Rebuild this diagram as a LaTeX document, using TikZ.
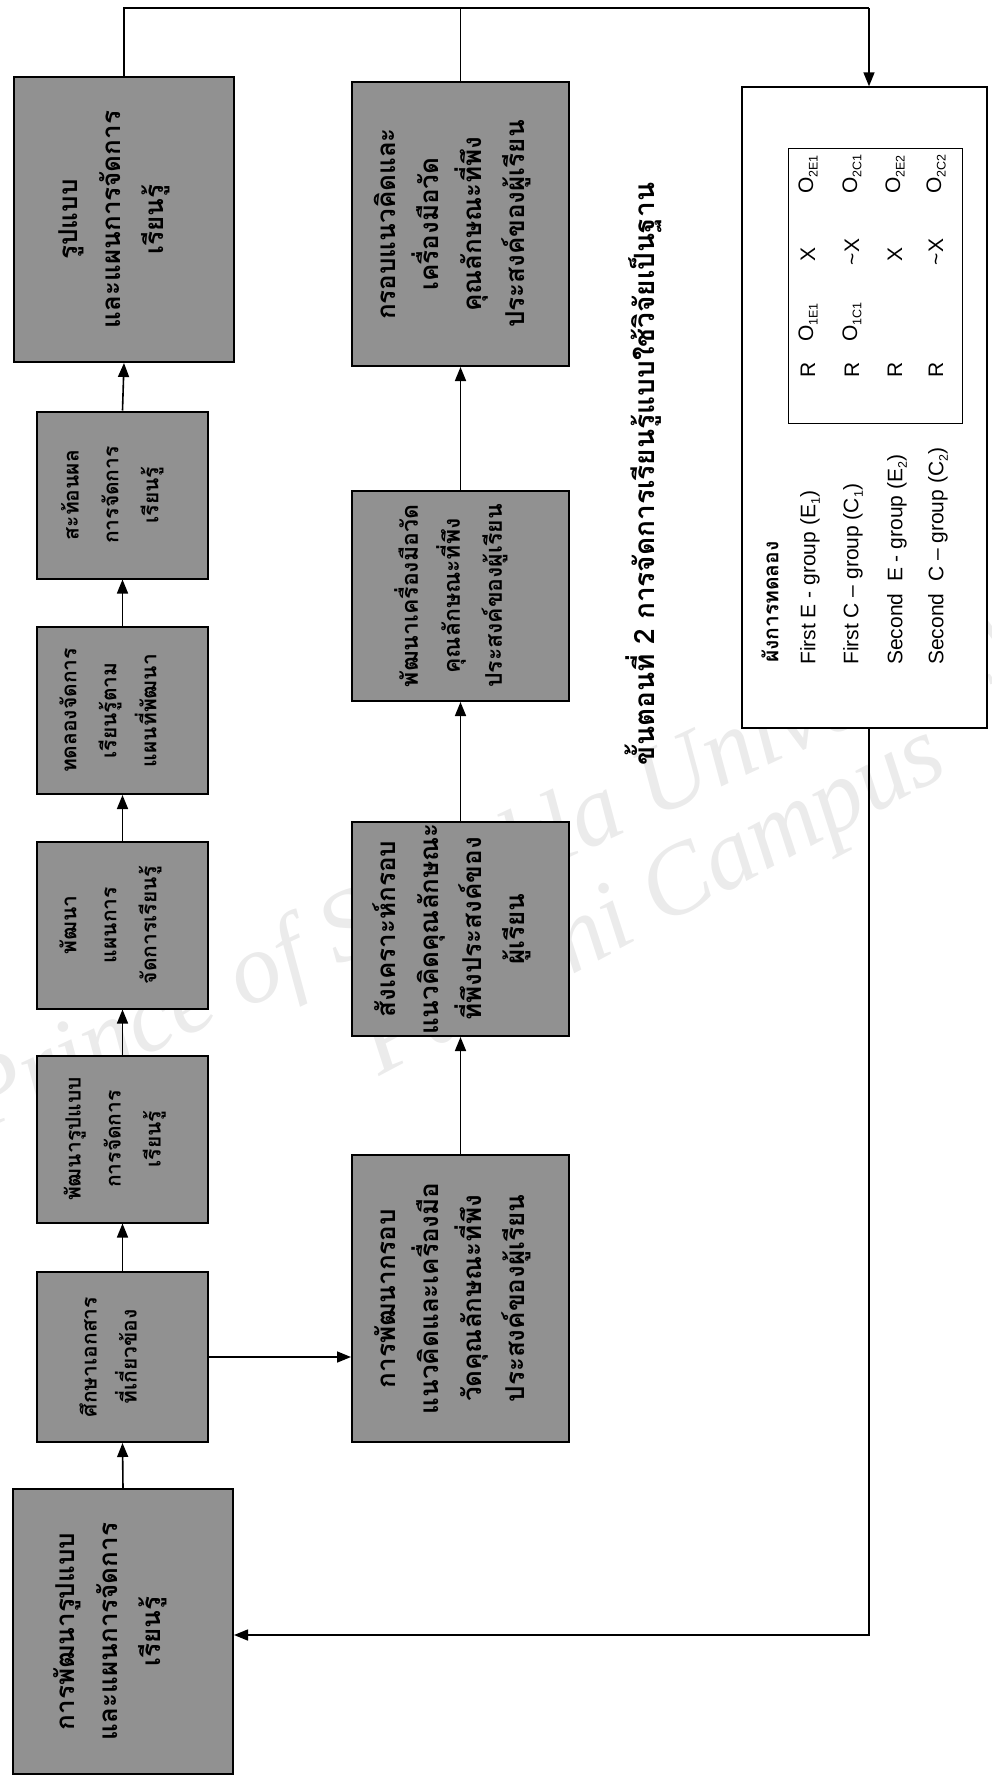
\documentclass[tikz,border=0pt]{standalone}
\usepackage{fontspec}
\usepackage{graphicx}
\setmainfont{Liberation Sans}
\newfontfamily\thai[Script=Thai]{Loma}
\newfontfamily\wmfont{Liberation Serif}
\usetikzlibrary{arrows.meta}
\definecolor{boxgray}{gray}{0.57}
\definecolor{wmark}{gray}{0.92}
% rotated multi-line text; optional arg shifts the text to the left
\newcommand{\vt}[2][0pt]{\rotatebox{90}{\begin{tabular}{@{}c@{}}#2\end{tabular}}\hspace*{#1}}
\newcommand{\lowsub}[1]{\raisebox{-0.4ex}{\fontsize{12.5}{12.5}\selectfont #1}}
\tikzset{
  gbox/.style={draw=black, line width=2pt, fill=boxgray, inner sep=0pt, text=black},
  smalltxt/.style={font=\thai\bfseries\fontsize{21}{40}\selectfont},
  midtxt/.style={font=\thai\bfseries\fontsize{23}{42}\selectfont},
  bigtxt/.style={font=\thai\bfseries\fontsize{26}{43}\selectfont},
  smallbox/.style={gbox, smalltxt, minimum width=171pt, minimum height=167pt},
  conn/.style={line width=1.6pt, draw=black},
  arr/.style={conn, -{Triangle[length=14pt,width=11pt]}},
  lab/.style={rotate=90, anchor=west, inner sep=0pt, font=\fontsize{21}{21}\selectfont},
  cell/.style={rotate=90, inner sep=0pt, font=\fontsize{21}{21}\selectfont},
  wm/.style={text=wmark, font=\wmfont\itshape\fontsize{100}{100}\selectfont},
}
\begin{document}
\begin{tikzpicture}[x=1pt,y=-1pt]
\useasboundingbox (0,0) rectangle (991,1786);

% watermark
\node[wm, rotate=25] (wm1) at (495,866) {Prince of Songkla University};
\node[wm, rotate=28] (wm2) at (655,905) {Pattani Campus};

% left column
\node[gbox, bigtxt, minimum width=220pt, minimum height=285pt] (L7) at (124,219.5) {\vt[24pt]{รูปแบบ\\และแผนการจัดการ\\เรียนรู้}};
\node[smallbox] (L6) at (122.5,495) {\vt[24pt]{สะท้อนผล\\การจัดการ\\เรียนรู้}};
\node[smallbox] (L5) at (122.5,710.5) {\vt[28pt]{ทดลองจัดการ\\เรียนรู้ตาม\\แผนที่พัฒนา}};
\node[smallbox] (L4) at (122.5,925) {\vt[28pt]{พัฒนา\\แผนการ\\จัดการเรียนรู้}};
\node[smallbox] (L3) at (122.5,1139) {\vt[20pt]{พัฒนารูปแบบ\\การจัดการ\\เรียนรู้}};
\node[smallbox, minimum height=170pt] (L2) at (122.5,1357) {\vt[28pt]{ศึกษาเอกสาร\\ที่เกี่ยวข้อง}};
\node[gbox, bigtxt, minimum width=220pt, minimum height=285pt] (L1) at (123,1631.5) {\vt[28pt]{การพัฒนารูปแบบ\\และแผนการจัดการ\\เรียนรู้}};

% second column
\node[gbox, bigtxt, minimum width=217pt, minimum height=284pt] (C4) at (460.5,224) {\vt[18pt]{กรอบแนวคิดและ\\เครื่องมือวัด\\คุณลักษณะที่พึง\\ประสงค์ของผู้เรียน}};
\node[gbox, midtxt, minimum width=217pt, minimum height=210pt] (C3) at (460.5,596) {\vt[18pt]{พัฒนาเครื่องมือวัด\\คุณลักษณะที่พึง\\ประสงค์ของผู้เรียน}};
\node[gbox, bigtxt, minimum width=217pt, minimum height=214pt] (C2) at (460.5,929) {\vt[18pt]{สังเคราะห์กรอบ\\แนวคิดคุณลักษณะ\\ที่พึงประสงค์ของ\\ผู้เรียน}};
\node[gbox, bigtxt, minimum width=217pt, minimum height=287pt] (C1) at (460.5,1298.5) {\vt[18pt]{การพัฒนากรอบ\\แนวคิดและเครื่องมือ\\วัดคุณลักษณะที่พึง\\ประสงค์ของผู้เรียน}};

% title
\node[rotate=90, inner sep=0pt, font=\thai\bfseries\fontsize{28}{28}\selectfont] (title) at (643,474) {ขั้นตอนที่ 2 การจัดการเรียนรู้แบบใช้วิจัยเป็นฐาน};

% right box
\node[draw=black, line width=1.4pt, fill=white, minimum width=245pt, minimum height=641pt] (R) at (864.5,407.5) {};
\node[draw=black, line width=0.8pt, minimum width=174pt, minimum height=275pt] (T) at (875,285.5) {};
\node[rotate=90, anchor=west, inner sep=0pt, font=\thai\bfseries\fontsize{21}{21}\selectfont] (hdr) at (770,663) {ผังการทดลอง};
\node[lab] (g1) at (810,665) {First E - group (E\lowsub{1})};
\node[lab] (g2) at (853,665) {First C -- group (C\lowsub{1})};
\node[lab] (g3) at (897,665) {Second\ \ E - group (E\lowsub{2})};
\node[lab] (g4) at (938,665) {Second\ \ C -- group (C\lowsub{2})};

\node[cell] (r1R) at (808,370) {R};
\node[cell] (r2R) at (852,370) {R};
\node[cell] (r3R) at (895,370) {R};
\node[cell] (r4R) at (936,370) {R};
\node[cell, anchor=west] (r1O) at (808,342) {O\lowsub{1E1}};
\node[cell, anchor=west] (r2O) at (852,342) {O\lowsub{1C1}};
\node[cell] (r1X) at (808,254) {X};
\node[cell] (r2X) at (852,252) {\textasciitilde X};
\node[cell] (r3X) at (895,254) {X};
\node[cell] (r4X) at (936,252) {\textasciitilde X};
\node[cell, anchor=west] (r1P) at (808,194) {O\lowsub{2E1}};
\node[cell, anchor=west] (r2P) at (852,194) {O\lowsub{2C1}};
\node[cell, anchor=west] (r3P) at (895,194) {O\lowsub{2E2}};
\node[cell, anchor=west] (r4P) at (936,194) {O\lowsub{2C2}};

% connector points
\coordinate (topR) at (869,8);
\coordinate (botR) at (869,1635);

% arrows left column
\draw[arr] (L1.north) -- (L2.south);
\draw[arr] (L2.north) -- (L3.south);
\draw[arr] (L3.north) -- (L4.south);
\draw[arr] (L4.north) -- (L5.south);
\draw[arr] (L5.north) -- (L6.south);
\draw[arr] (L6.north) -- (L7.south);
% to second column
\draw[arr] (L2.east) -- (L2.east -| C1.west);
\draw[arr] (C1.north) -- (C2.south);
\draw[arr] (C2.north) -- (C3.south);
\draw[arr] (C3.north) -- (C4.south);
% top connector
\draw[conn] (L7.north) |- (topR);
\draw[conn] (C4.north) -- (C4.north |- topR);
\draw[arr] (topR) -- (R.north -| topR);
% bottom loop
\draw[arr] (R.south -| botR) -- (botR) -- (L1.east |- botR);
\end{tikzpicture}
\end{document}
